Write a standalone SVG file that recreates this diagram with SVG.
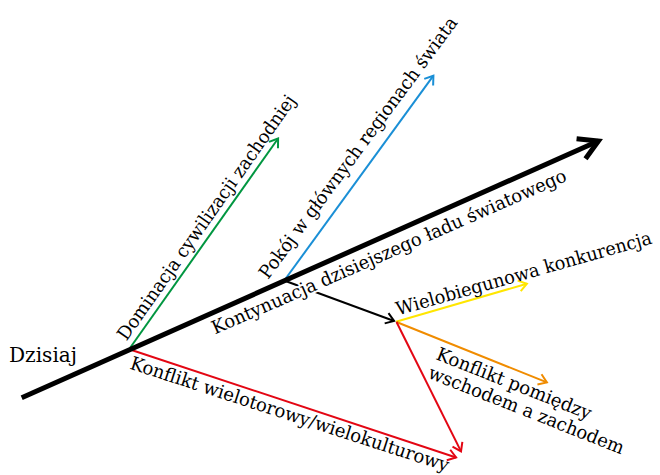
<svg xmlns="http://www.w3.org/2000/svg" width="660" height="475" viewBox="0 0 660 475">
  <style>
    .lbl { font-family: "DejaVu Serif", "Liberation Serif", serif; font-size: 18.5px; fill: #000; }
    .big { font-size: 21px; }
    .halo { stroke: #fff; stroke-width: 4; stroke-linejoin: round; paint-order: stroke; }
    .ln { fill: none; stroke-width: 2; }
    .main { fill: none; stroke: #000; stroke-width: 5; }
  </style>
  <defs>
    <marker id="ah-main" markerUnits="userSpaceOnUse" orient="auto" overflow="visible" markerWidth="1" markerHeight="1" refX="0" refY="0">
      <path d="M-19,-11 L0,0 L-19,11" fill="none" stroke="#000" stroke-width="5" stroke-linejoin="miter"/>
    </marker>
    <marker id="ah-black" markerUnits="userSpaceOnUse" orient="auto" overflow="visible" markerWidth="1" markerHeight="1">
      <path d="M-8,-5.5 L0,0 L-8,5.5" fill="none" stroke="#000" stroke-width="2"/>
    </marker>
    <marker id="ah-green" markerUnits="userSpaceOnUse" orient="auto" overflow="visible" markerWidth="1" markerHeight="1">
      <path d="M-8,-5.5 L0,0 L-8,5.5" fill="none" stroke="#009640" stroke-width="2"/>
    </marker>
    <marker id="ah-blue" markerUnits="userSpaceOnUse" orient="auto" overflow="visible" markerWidth="1" markerHeight="1">
      <path d="M-8,-5.5 L0,0 L-8,5.5" fill="none" stroke="#1a8fd6" stroke-width="2"/>
    </marker>
    <marker id="ah-yellow" markerUnits="userSpaceOnUse" orient="auto" overflow="visible" markerWidth="1" markerHeight="1">
      <path d="M-8,-5.5 L0,0 L-8,5.5" fill="none" stroke="#ffe600" stroke-width="2"/>
    </marker>
    <marker id="ah-orange" markerUnits="userSpaceOnUse" orient="auto" overflow="visible" markerWidth="1" markerHeight="1">
      <path d="M-8,-5.5 L0,0 L-8,5.5" fill="none" stroke="#f08c00" stroke-width="2"/>
    </marker>
    <marker id="ah-red" markerUnits="userSpaceOnUse" orient="auto" overflow="visible" markerWidth="1" markerHeight="1">
      <path d="M-8,-5.5 L0,0 L-8,5.5" fill="none" stroke="#e30613" stroke-width="2"/>
    </marker>
  </defs>

  <g id="connectors">
    <path id="c-black" class="ln" stroke="#000" d="M285.5,281 L394.1,321" marker-end="url(#ah-black)"/>
    <path id="c-green" class="ln" stroke="#009640" d="M130,348 L278.1,138.5" marker-end="url(#ah-green)"/>
    <path id="c-blue" class="ln" stroke="#1a8fd6" d="M285,279.5 L433.4,75.7" marker-end="url(#ah-blue)"/>
    <path id="c-yellow" class="ln" stroke="#ffe600" d="M396,321.7 L526.9,283.7" marker-end="url(#ah-yellow)"/>
    <path id="c-orange" class="ln" stroke="#f08c00" d="M396.5,322 L546.9,382.4" marker-end="url(#ah-orange)"/>
    <path id="c-red2" class="ln" stroke="#e30613" d="M396.5,322 L461,451.4" marker-end="url(#ah-red)"/>
    <path id="c-red1" class="ln" stroke="#e30613" d="M131.5,350 L456.1,457.5" marker-end="url(#ah-red)"/>
  </g>

  <g id="n-kontynuacja">
    <text class="lbl halo" transform="translate(215,334.5) rotate(-23.6)" textLength="385" lengthAdjust="spacingAndGlyphs">Kontynuacja dzisiejszego ładu światowego</text>
  </g>

  <g id="timeline">
    <path class="main" d="M21.7,397.7 L598.4,141" marker-end="url(#ah-main)"/>
  </g>

  <g id="n-dzisiaj">
    <text class="lbl big" x="9" y="362" textLength="68" lengthAdjust="spacingAndGlyphs">Dzisiaj</text>
  </g>
  <g id="n-dominacja">
    <text class="lbl" transform="translate(126.5,341.5) rotate(-54.8)" textLength="295" lengthAdjust="spacingAndGlyphs">Dominacja cywilizacji zachodniej</text>
  </g>
  <g id="n-pokoj">
    <text class="lbl" transform="translate(268,280) rotate(-53.5)" textLength="320" lengthAdjust="spacingAndGlyphs">Pokój w głównych regionach świata</text>
  </g>
  <g id="n-wielobiegunowa">
    <text class="lbl" transform="translate(398,315.5) rotate(-15.8)" textLength="265" lengthAdjust="spacingAndGlyphs">Wielobiegunowa konkurencja</text>
  </g>
  <g id="n-wschod-zachod">
    <text class="lbl" transform="translate(435,359) rotate(21.6)" textLength="165" lengthAdjust="spacingAndGlyphs">Konflikt pomiędzy</text>
    <text class="lbl" transform="translate(427,377.5) rotate(21.6)" textLength="209" lengthAdjust="spacingAndGlyphs">wschodem a zachodem</text>
  </g>
  <g id="n-wielotorowy">
    <text class="lbl" transform="translate(129,368.5) rotate(18)" textLength="334" lengthAdjust="spacingAndGlyphs">Konflikt wielotorowy/wielokulturowy</text>
  </g>
</svg>
